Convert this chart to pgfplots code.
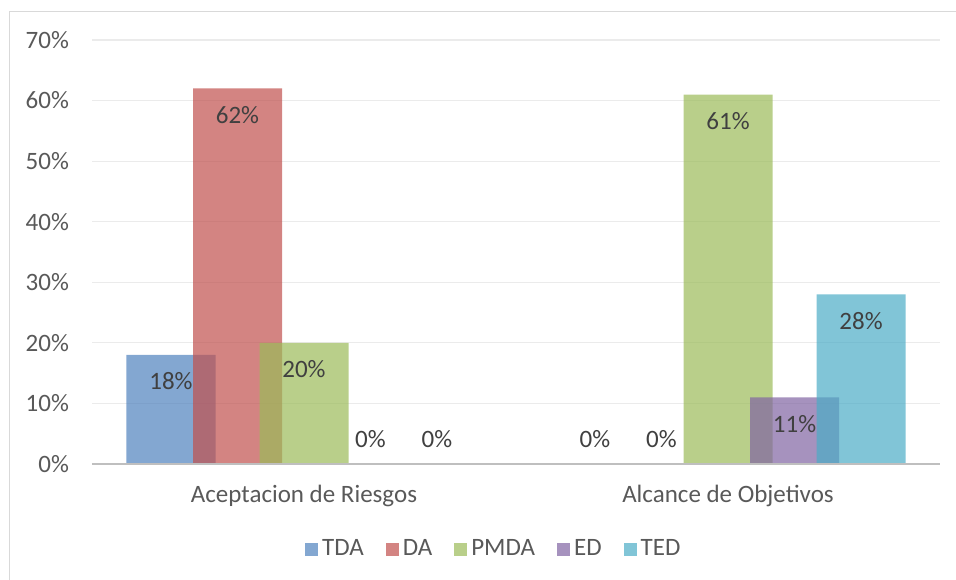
\documentclass[border=0pt]{standalone}
\usepackage{pgfplots}
\pgfplotsset{compat=1.18}
\usepackage{fontspec}
\setmainfont{Carlito}
\definecolor{cTDA}{HTML}{4F81BD}
\definecolor{cDA}{HTML}{C0504D}
\definecolor{cPMDA}{HTML}{9BBB59}
\definecolor{cED}{HTML}{8064A2}
\definecolor{cTED}{HTML}{4BACC6}
\definecolor{tickc}{HTML}{595959}
\definecolor{labc}{HTML}{404040}
\begin{document}
\begin{tikzpicture}
\useasboundingbox (-46pt,-57.5pt) rectangle (432pt,232pt);
\draw[color=black!15, line width=0.8pt] (-41.25pt,-60pt) -- (-41.25pt,226.25pt) -- (440pt,226.25pt);
\begin{axis}[
  at={(0,0)}, anchor=south west,
  scale only axis,
  width=424pt, height=212pt,
  xmin=-0.5, xmax=1.5,
  ymin=0, ymax=70,
  ytick={0,10,...,70},
  xtick={0,1},
  xticklabels={Aceptacion de Riesgos, Alcance de Objetivos},
  yticklabel={\pgfmathprintnumber{\tick}\%},
  /pgf/number format/assume math mode=true,
  axis line style={draw=none},
  major tick length=0pt,
  ymajorgrids,
  grid style={draw=black!8, line width=0.6pt},
  tick label style={font=\fontsize{12.5}{14}\selectfont, text=tickc},
  yticklabel style={anchor=east, xshift=-8pt},
  xticklabel style={anchor=base, yshift=-19.25pt},
  ybar=0pt,
  bar width=44.5pt,
  visualization depends on=rawy \as \rawy,
  nodes near coords={\pgfmathprintnumber{\pgfplotspointmeta}\%},
  every node near coord/.append style={anchor=base, font=\fontsize{12.5}{14}\selectfont, text=labc, text opacity=1, fill opacity=1, yshift={(\rawy>0)*(-25.75)+8.25}},
  legend style={at={(0.475,-0.2005)}, anchor=center, legend columns=-1, draw=none, fill=none,
    font=\fontsize{12.5}{14}\selectfont, text=tickc,
    /tikz/every even column/.append style={column sep=9pt}},
  legend image code/.code={\fill[#1] (-1.5pt,-3.25pt) rectangle (5pt,3.25pt);},
  clip=false,
]
\addplot[draw=none, fill=cTDA, fill opacity=0.7, bar shift=-66.5pt] coordinates {(0,18) (1,0)};
\addplot[draw=none, fill=cDA, fill opacity=0.7, bar shift=-33.25pt] coordinates {(0,62) (1,0)};
\addplot[draw=none, fill=cPMDA, fill opacity=0.7, bar shift=0pt] coordinates {(0,20) (1,61)};
\addplot[draw=none, fill=cED, fill opacity=0.7, bar shift=33.25pt] coordinates {(0,0) (1,11)};
\addplot[draw=none, fill=cTED, fill opacity=0.7, bar shift=66.5pt] coordinates {(0,0) (1,28)};
\legend{TDA, DA, PMDA, ED, TED}
\draw[color=black!25, line width=1.2pt] (axis cs:-0.5,0) -- (axis cs:1.5,0);
\end{axis}
\end{tikzpicture}
\end{document}
